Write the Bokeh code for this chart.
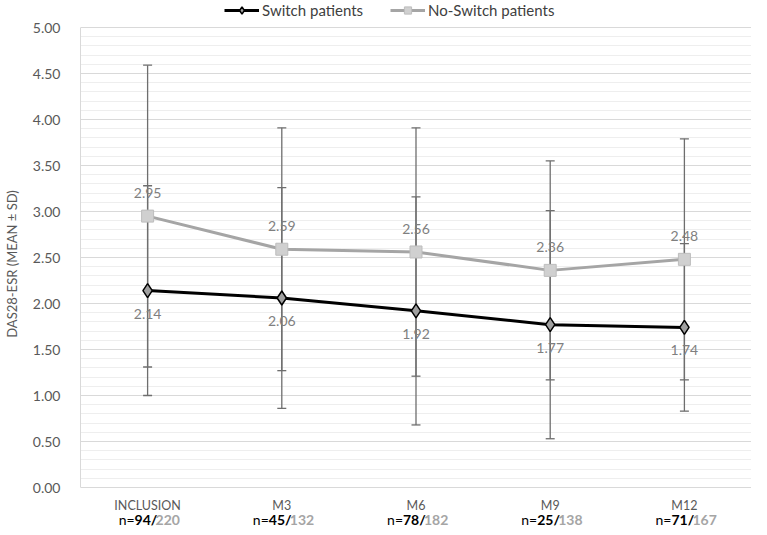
from bokeh.plotting import figure
from bokeh.models import (ColumnDataSource, Whisker, TeeHead, Legend, LegendItem,
                          FixedTicker, NumeralTickFormatter, FactorRange)
from bokeh.core.properties import value
from bokeh.embed import file_html
from bokeh.resources import INLINE

timepoints = ["INCLUSION", "M3", "M6", "M9", "M12"]
switch_mean = [2.14, 2.06, 1.92, 1.77, 1.74]
switch_sd = [1.14, 1.20, 1.24, 1.24, 0.91]
noswitch_mean = [2.95, 2.59, 2.56, 2.36, 2.48]
noswitch_sd = [1.64, 1.32, 1.35, 1.19, 1.31]
n_switch = ["94", "45", "78", "25", "71"]
n_noswitch = ["220", "132", "182", "138", "167"]
y_major = [i * 0.5 for i in range(11)]
y_minor = [i * 0.1 for i in range(51)]

FONT = "Lato"
GRAY_TXT = "#7f7f7f"
AX_TXT = "#595959"
H = 527

src = ColumnDataSource(dict(
    x=timepoints,
    sm=switch_mean,
    s_up=[m + s for m, s in zip(switch_mean, switch_sd)],
    s_lo=[m - s for m, s in zip(switch_mean, switch_sd)],
    nm=noswitch_mean,
    n_up=[m + s for m, s in zip(noswitch_mean, noswitch_sd)],
    n_lo=[m - s for m, s in zip(noswitch_mean, noswitch_sd)],
    sm_txt=[f"{v:.2f}" for v in switch_mean],
    nm_txt=[f"{v:.2f}" for v in noswitch_mean],
    n_pre=["n=" for _ in timepoints],
    n_sw=[f"{v}/" for v in n_switch],
    n_ns=n_noswitch,
    zero=[0 for _ in timepoints],
))

p = figure(width=751, height=H, output_backend="svg", toolbar_location=None,
           x_range=FactorRange(*timepoints, range_padding=0),
           y_range=(-(H - 487) / 92, 487 / 92),
           min_border_left=68, min_border_right=0, min_border_top=0, min_border_bottom=0)
p.outline_line_color = None
p.background_fill_color = "white"
p.border_fill_color = "white"
p.xaxis.visible = False

# grid
p.xgrid.grid_line_color = None
p.ygrid.grid_line_color = "#d9d9d9"
p.ygrid.grid_line_width = 1
p.ygrid.minor_grid_line_color = "#eeeeee"
p.ygrid.minor_grid_line_width = 1

# y axis
ya = p.yaxis[0]
ya.ticker = FixedTicker(ticks=y_major, minor_ticks=y_minor)
ya.formatter = NumeralTickFormatter(format="0.00")
ya.bounds = (0, 5)
ya.axis_line_color = "#d9d9d9"
ya.major_tick_line_color = None
ya.minor_tick_line_color = None
ya.major_label_text_font = FONT
ya.major_label_text_font_size = "14px"
ya.major_label_text_color = AX_TXT
ya.major_label_standoff = 14
ya.axis_label = "DAS28-ESR (MEAN ± SD)"
ya.axis_label_text_font = FONT
ya.axis_label_text_font_size = "13px"
ya.axis_label_text_font_style = "normal"
ya.axis_label_text_color = AX_TXT
ya.axis_label_standoff = 10

# lines and markers
r_nl = p.line("x", "nm", source=src, line_color="#a5a5a5", line_width=3)
r_sl = p.line("x", "sm", source=src, line_color="#000000", line_width=3)
r_nm = p.scatter("x", "nm", source=src, marker="square", size=12,
                 fill_color="#d0d0d0", line_color="#bdbdbd", line_width=1)
r_sm = p.scatter("x", "sm", source=src, marker="diamond", size=14,
                 fill_color="#a0a0a0", line_color="#000000", line_width=1.5)

# error bars
for up, lo in (("n_up", "n_lo"), ("s_up", "s_lo")):
    w = Whisker(base="x", upper=up, lower=lo, source=src, dimension="height",
                line_color="#6e6e6e", line_width=1.3,
                upper_head=TeeHead(size=9, line_color="#6e6e6e", line_width=1.3),
                lower_head=TeeHead(size=9, line_color="#6e6e6e", line_width=1.3))
    p.add_layout(w)

# value labels
p.text("x", "nm", text="nm_txt", source=src, y_offset=-23, text_align="center",
       text_baseline="middle", text_font=value(FONT), text_font_size="14px",
       text_color=GRAY_TXT)
p.text("x", "sm", text="sm_txt", source=src, y_offset=23, text_align="center",
       text_baseline="middle", text_font=value(FONT), text_font_size="14px",
       text_color=GRAY_TXT)

# category labels under the baseline
p.text("x", "zero", text="x", source=src, y_offset=18, text_align="center",
       text_baseline="middle", text_font=value(FONT), text_font_size="12.5px",
       text_color=AX_TXT)

common = dict(source=src, y_offset=32, text_baseline="middle",
              text_font=value(FONT), text_font_size="14px")
p.text("x", "zero", text="n_pre", x_offset=-13, text_align="right",
       text_color="#000000", **common)
p.text("x", "zero", text="n_sw", x_offset=-13, text_align="left",
       text_color="#000000", text_font_style="bold", **common)
p.text("x", "zero", text="n_ns", x_offset=8, text_align="left",
       text_color="#a5a5a5", text_font_style="bold", **common)

# legend
legend = Legend(items=[LegendItem(label="Switch patients", renderers=[r_sl, r_sm]),
                       LegendItem(label="No-Switch patients", renderers=[r_nl, r_nm])],
                orientation="horizontal", location=(144, H - 19),
                padding=0, margin=0, spacing=27, label_standoff=3,
                glyph_width=35, glyph_height=18, label_height=18,
                border_line_color=None, background_fill_alpha=0,
                label_text_font=FONT, label_text_font_size="15px",
                label_text_color="#404040")
p.add_layout(legend)

open("out.html", "w").write(file_html(p, INLINE))
